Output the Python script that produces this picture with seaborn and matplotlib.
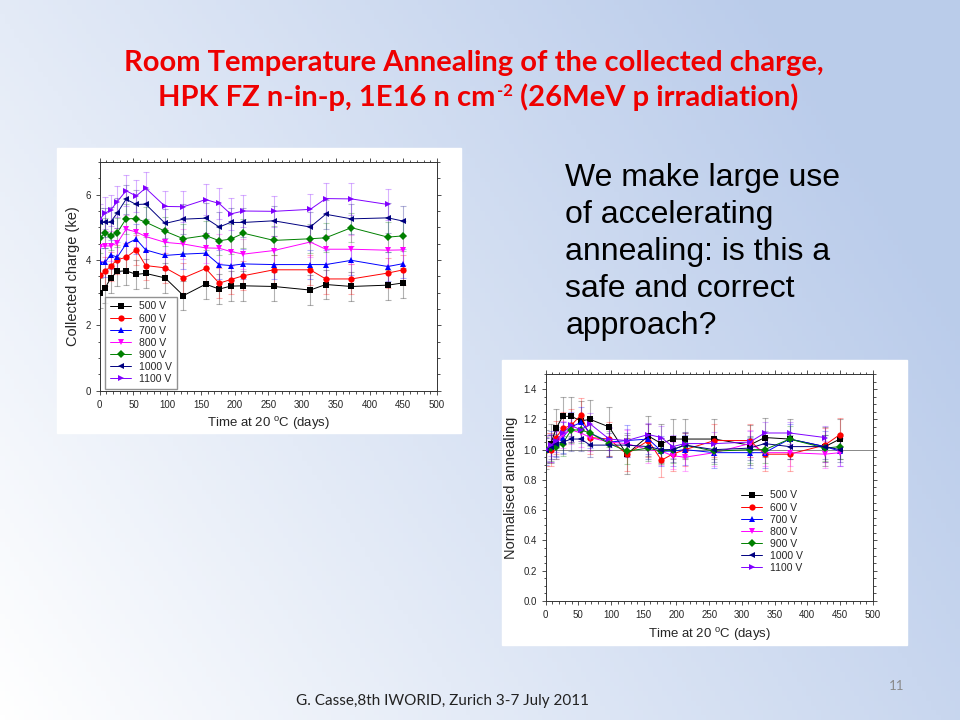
import numpy as np
import pandas as pd
import seaborn as sns
import matplotlib.pyplot as plt
from matplotlib.patches import Rectangle

# time points (days at 20 C)
days = [0, 8, 16, 26, 39, 54, 68, 97, 124, 157, 177, 194, 213, 258, 312, 335, 373, 427, 450]
voltages = ['500 V', '600 V', '700 V', '800 V', '900 V', '1000 V', '1100 V']

# collected charge (ke)
q500 = [2.99, 3.14, 3.44, 3.65, 3.67, 3.56, 3.59, 3.45, 2.91, 3.26, 3.11, 3.20, 3.21, 3.19, 3.08, 3.25, 3.19, 3.23, 3.30]
q600 = [3.53, 3.65, 3.81, 4.01, 4.08, 4.31, 3.83, 3.76, 3.45, 3.74, 3.29, 3.40, 3.52, 3.70, 3.70, 3.42, 3.42, 3.60, 3.70]
q700 = [3.93, 3.93, 4.16, 4.09, 4.49, 4.64, 4.31, 4.14, 4.18, 4.21, 3.86, 3.83, 3.88, 3.86, 3.86, 3.86, 3.99, 3.80, 3.89]
q800 = [4.41, 4.43, 4.43, 4.52, 4.94, 4.86, 4.72, 4.54, 4.49, 4.37, 4.36, 4.26, 4.18, 4.29, 4.55, 4.33, 4.33, 4.30, 4.31]
q900 = [4.66, 4.83, 4.75, 4.84, 5.26, 5.27, 5.16, 4.88, 4.65, 4.75, 4.59, 4.64, 4.82, 4.60, 4.65, 4.68, 4.99, 4.70, 4.74]
q1000 = [5.15, 5.15, 5.16, 5.44, 5.86, 5.70, 5.71, 5.12, 5.25, 5.28, 5.01, 5.15, 5.15, 5.20, 5.01, 5.40, 5.26, 5.29, 5.19]
q1100 = [5.24, 5.44, 5.52, 5.79, 6.12, 5.96, 6.20, 5.64, 5.63, 5.85, 5.73, 5.41, 5.50, 5.49, 5.55, 5.88, 5.87, 5.70, np.nan]
q_err = [0.45, 0.45, 0.45, 0.45, 0.45, 0.45, 0.48]

# normalised annealing
n500 = [1.00, 1.04, 1.14, 1.22, 1.22, 1.19, 1.20, 1.15, 0.97, 1.09, 1.04, 1.07, 1.07, 1.07, 1.03, 1.08, 1.07, 1.02, 1.07]
n600 = [1.00, 1.00, 1.08, 1.14, 1.16, 1.23, 1.08, 1.07, 0.97, 1.06, 0.93, 0.97, 1.00, 1.06, 1.06, 0.97, 0.97, 1.03, 1.10]
n700 = [1.00, 1.02, 1.05, 1.08, 1.15, 1.18, 1.11, 1.05, 1.06, 1.07, 0.99, 0.99, 1.00, 0.98, 0.98, 0.98, 1.07, 1.02, 0.99]
n800 = [1.00, 1.01, 1.03, 1.10, 1.13, 1.11, 1.08, 1.05, 1.04, 1.00, 0.99, 0.96, 0.95, 0.98, 1.04, 0.98, 0.98, 0.97, 0.98]
n900 = [1.00, 1.01, 1.02, 1.04, 1.13, 1.13, 1.11, 1.04, 0.99, 1.01, 0.99, 1.00, 1.03, 0.99, 1.00, 1.00, 1.07, 1.01, 1.02]
n1000 = [1.00, 1.02, 1.04, 1.05, 1.07, 1.07, 1.03, 1.03, 1.03, 1.02, 1.00, 1.00, 1.03, 1.00, 1.01, 1.04, 1.02, 1.02, 1.00]
n1100 = [1.00, 1.03, 1.06, 1.11, 1.16, 1.13, 1.17, 1.07, 1.06, 1.10, 1.08, 1.02, 1.04, 1.04, 1.05, 1.11, 1.11, 1.08, np.nan]
n_err = [0.13, 0.11, 0.10, 0.09, 0.085, 0.08, 0.075]

colors = ['#000000', '#ff0000', '#0000ff', '#ff00ff', '#008000', '#000080', '#8000ff']
markers = ['s', 'o', '^', 'v', 'D', '<', '>']
palette = dict(zip(voltages, colors))
mark = dict(zip(voltages, markers))


def long_table(series):
    rows = []
    for v, vals in zip(voltages, series):
        for d, y in zip(days, vals):
            rows.append({'days': d, 'value': y, 'voltage': v})
    return pd.DataFrame(rows)


charge = long_table([q500, q600, q700, q800, q900, q1000, q1100])
norm = long_table([n500, n600, n700, n800, n900, n1000, n1100])

sns.set_style('ticks')
plt.rcParams['font.family'] = ['Liberation Sans', 'DejaVu Sans']

fig = plt.figure(figsize=(9.6, 7.2), dpi=100)

# slide background
bg = fig.add_axes([0, 0, 1, 1])
xx, yy = np.meshgrid(np.linspace(0, 1, 200), np.linspace(0, 1, 150))
t = np.clip(0.8 * xx + 0.4 * (1 - yy) - 0.05 * (1 - yy) * xx, 0, 1)[:, :, None]
blue = np.array([0.73, 0.80, 0.92])
img = (1 - t) * np.ones(3) + t * blue
bg.imshow(img, extent=[0, 1, 0, 1], aspect='auto', origin='upper')
bg.add_patch(Rectangle((0.0594, 0.3986), 0.4208, 0.3958, color='white', transform=bg.transAxes))
bg.add_patch(Rectangle((0.5229, 0.1042), 0.4219, 0.3958, color='white', transform=bg.transAxes))
bg.set_xlim(0, 1)
bg.set_ylim(0, 1)
bg.axis('off')

title_font = dict(color='#ee0000', fontsize=21, fontweight='bold', family=['Lato', 'DejaVu Sans'])
fig.text(0.494, 0.912, 'Room Temperature Annealing of the collected charge,',
         ha='center', va='center', **title_font)
base_y = 0.853
t_a = fig.text(0.516, base_y, 'HPK FZ n-in-p, 1E16 n cm', ha='right', va='baseline', **title_font)
sup = bg.annotate('-2', xy=(1, base_y + 0.014), xycoords=(t_a, 'figure fraction'),
                  xytext=(1, 0), textcoords='offset points', ha='left', va='baseline',
                  color='#ee0000', fontsize=12, fontweight='bold', family=['Lato', 'DejaVu Sans'])
bg.annotate(' (26MeV p irradiation)', xy=(1, base_y), xycoords=(sup, 'figure fraction'),
            ha='left', va='baseline', **title_font)

fig.text(0.589, 0.774, 'We make large use\nof accelerating\nannealing: is this a\nsafe and correct\napproach?',
         fontsize=23, ha='left', va='top', linespacing=1.31, color='black')

fig.text(0.461, 0.027, 'G. Casse,8th IWORID, Zurich 3-7 July 2011', fontsize=11, color='#222222',
         family=['Lato', 'DejaVu Sans'], ha='center', va='center')
fig.text(0.934, 0.047, '11', fontsize=9.5, color='#8a8a8a', family=['Lato', 'DejaVu Sans'], ha='center', va='center')


def draw_panel(ax, data, errs, ylim, yticks, ylabel):
    for v, e in zip(voltages, errs):
        sub = data[data['voltage'] == v].dropna()
        ax.errorbar(sub['days'], sub['value'], yerr=e, fmt='none', ecolor=palette[v],
                    alpha=0.3, elinewidth=0.8, capsize=2, capthick=0.8, zorder=1)
    sns.lineplot(data=data.dropna(), x='days', y='value', hue='voltage', style='voltage',
                 palette=palette, markers=mark, dashes=False, estimator=None, sort=False,
                 linewidth=0.7, markersize=4.5, markeredgewidth=0, ax=ax, zorder=3)
    ax.set_xlim(0, 500)
    ax.set_ylim(*ylim)
    ax.set_xticks(range(0, 501, 50))
    ax.set_yticks(yticks)
    ax.minorticks_on()
    ax.tick_params(which='both', direction='out', labelsize=7, length=3, width=0.6,
                   top=True, right=True, color='#333333')
    ax.tick_params(which='minor', length=1.8)
    ax.set_xlabel(r'Time at 20 $^{\mathregular{o}}$C (days)', fontsize=9.5)
    ax.set_ylabel(ylabel, fontsize=10.5)
    for s in ax.spines.values():
        s.set_linewidth(0.7)
        s.set_color('#333333')


ax1 = fig.add_axes([0.1039, 0.4574, 0.3514, 0.3176])
draw_panel(ax1, charge, q_err, (0, 7), [0, 2, 4, 6], 'Collected charge (ke)')
sns.move_legend(ax1, 'lower left', bbox_to_anchor=(0.017, 0.009), title=None, fontsize=7.5,
                frameon=True, fancybox=False, edgecolor='#777777', handlelength=2.0,
                labelspacing=0.2, borderpad=0.45, borderaxespad=0)

ax2 = fig.add_axes([0.5684, 0.1653, 0.3406, 0.3153])
ax2.axhline(1.0, color='#888888', linewidth=0.7, zorder=0)
draw_panel(ax2, norm, n_err, (0, 1.5), np.arange(0, 1.41, 0.2), 'Normalised annealing')
ax2.yaxis.set_major_formatter(plt.FormatStrFormatter('%.1f'))
sns.move_legend(ax2, 'lower left', bbox_to_anchor=(0.585, 0.105), title=None, fontsize=7.5,
                frameon=False, handlelength=2.0, labelspacing=0.2, borderaxespad=0)

fig.savefig('out.png', dpi=100)
